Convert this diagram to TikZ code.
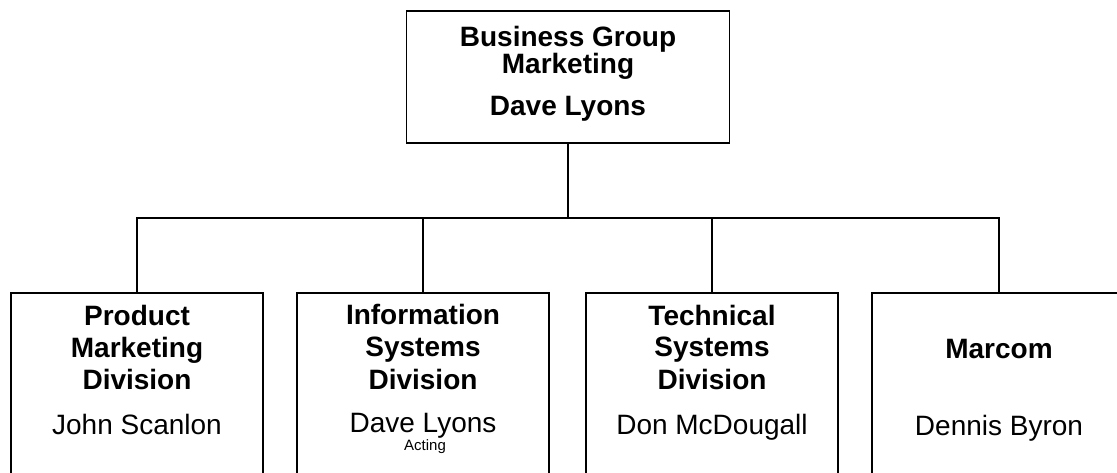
\documentclass[tikz,border=0pt]{standalone}
\usepackage{fontspec}
\setmainfont{Liberation Sans}
\begin{document}
\begin{tikzpicture}[x=1pt,y=-1pt,line width=1.5pt,
  topbox/.style={draw,line width=1.5pt,inner sep=0pt,outer sep=0pt,minimum width=323pt,minimum height=132pt},
  divbox/.style={draw,line width=1.5pt,inner sep=0pt,outer sep=0pt,minimum width=252pt,minimum height=260pt},
  head/.style={font=\fontsize{28}{28}\selectfont\bfseries,anchor=base,inner sep=0pt},
  person/.style={font=\fontsize{28}{28}\selectfont,anchor=base,inner sep=0pt},
  remark/.style={font=\fontsize{15}{15}\selectfont,anchor=base,inner sep=0pt}]
\clip (0,0) rectangle (1117,472);
\fill[white] (0,0) rectangle (1117,472);
% boxes
\node[topbox] (top) at (568,77) {};
\node[divbox] (b1) at (137,423) {};
\node[divbox] (b2) at (423,423) {};
\node[divbox] (b3) at (712,423) {};
\node[divbox,minimum width=254pt] (b4) at (999,423) {};
% connectors
\coordinate (busy) at (0,218);
\coordinate (bus) at (top.south |- busy);
\draw (top.south) -- (bus);
\draw (b1.north) |- (bus) -| (b4.north);
\draw (b2.north) -- (b2.north |- bus);
\draw (b3.north) -- (b3.north |- bus);
% top texts
\node[head] (t1) at (568,46) {Business Group};
\node[head] (t2) at (568,73) {Marketing};
\node[head] (t3) at (568,115) {Dave Lyons};
% box 1
\node[head] (p1) at (137,325) {Product};
\node[head] (p2) at (137,357) {Marketing};
\node[head] (p3) at (137,389) {Division};
\node[person] (p4) at (137,434) {John Scanlon};
% box 2
\node[head] (i1) at (423,324) {Information};
\node[head] (i2) at (423,356) {Systems};
\node[head] (i3) at (423,389) {Division};
\node[person] (i4) at (423,432) {Dave Lyons};
\node[remark] (i5) at (425,450) {Acting};
% box 3
\node[head] (s1) at (712,325) {Technical};
\node[head] (s2) at (712,356) {Systems};
\node[head] (s3) at (712,389) {Division};
\node[person] (s4) at (712,434) {Don McDougall};
% box 4
\node[head] (m1) at (999,358) {Marcom};
\node[person] (m2) at (999,435) {Dennis Byron};
\end{tikzpicture}
\end{document}
